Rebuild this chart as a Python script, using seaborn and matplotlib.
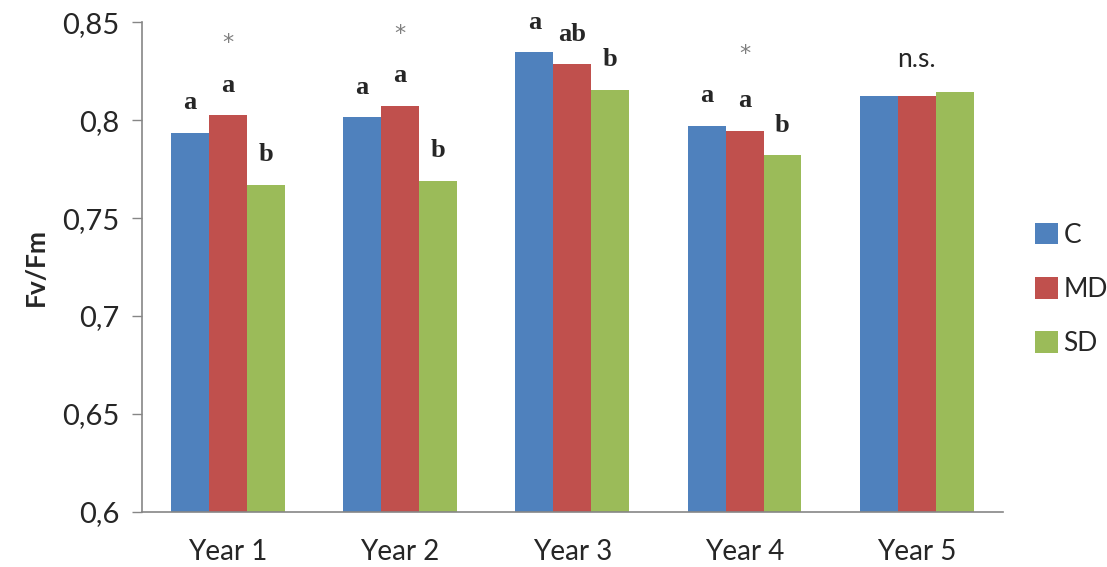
import seaborn as sns
import matplotlib.pyplot as plt
import pandas as pd

# ---- Data

years = ["Year 1", "Year 2", "Year 3", "Year 4", "Year 5"]
treatments = ["C", "MD", "SD"]

fv_fm_c = [0.7934, 0.8014, 0.8345, 0.7971, 0.8122]
fv_fm_md = [0.8024, 0.8073, 0.8284, 0.7944, 0.8122]
fv_fm_sd = [0.7670, 0.7690, 0.8155, 0.7821, 0.8142]

letters_c = ["a", "a", "a", "a", ""]
letters_md = ["a", "a", "ab", "a", ""]
letters_sd = ["b", "b", "b", "b", ""]
group_marks = ["*", "*", "", "*", "n.s."]

y_ticks = [0.6, 0.65, 0.7, 0.75, 0.8, 0.85]
y_tick_labels = ["0,6", "0,65", "0,7", "0,75", "0,8", "0,85"]

palette = {"C": "#4F81BD", "MD": "#C0504D", "SD": "#9BBB59"}

# ---- Long format for seaborn

df = pd.DataFrame({
    "Year": years * 3,
    "Treatment": [t for t in treatments for _ in years],
    "Fv/Fm": fv_fm_c + fv_fm_md + fv_fm_sd,
})

sns.set_style("white")
plt.rcParams["font.family"] = ["Lato", "DejaVu Sans"]

fig, ax = plt.subplots(figsize=(11.07, 5.67), dpi=100)
fig.subplots_adjust(left=0.128, right=0.906, bottom=0.097, top=0.961)

sns.barplot(data=df, x="Year", y="Fv/Fm", hue="Treatment", order=years,
            hue_order=treatments, palette=palette, width=0.66, gap=0,
            saturation=1, errorbar=None, linewidth=0, edgecolor="none", ax=ax)

ax.set_ylim(0.6, 0.85)
ax.set_yticks(y_ticks)
ax.set_yticklabels(y_tick_labels)
ax.set_xlabel("")
ax.set_ylabel("Fv/Fm", fontsize=19, fontweight="bold", labelpad=10)

ax.tick_params(axis="y", which="major", left=True, length=7, width=1,
               color="#868686", labelsize=21, pad=9)
ax.tick_params(axis="x", bottom=False, labelsize=20, pad=16)
for side in ["top", "right"]:
    ax.spines[side].set_visible(False)
for side in ["left", "bottom"]:
    ax.spines[side].set_color("#868686")
    ax.spines[side].set_linewidth(1.2)

# ---- Significance letters over each bar

letter_sets = [letters_c, letters_md, letters_sd]
for container, letters in zip(ax.containers, letter_sets):
    for bar, txt in zip(container, letters):
        if not txt:
            continue
        ax.annotate(txt, (bar.get_x() + bar.get_width() / 2, bar.get_height()),
                    xytext=(0, 17), textcoords="offset points",
                    ha="center", va="baseline", fontsize=19, fontweight="bold",
                    family="Liberation Serif")

# ---- Group marks (asterisk / n.s.)

for i, mark in enumerate(group_marks):
    top = max(fv_fm_c[i], fv_fm_md[i], fv_fm_sd[i])
    if mark == "*":
        ax.annotate(mark, (i, top), xytext=(0, 52), textcoords="offset points",
                    ha="center", va="center", fontsize=16, color="#7f7f7f",
                    family="DejaVu Sans")
    elif mark:
        ax.annotate(mark, (i, top), xytext=(0, 18), textcoords="offset points",
                    ha="center", va="baseline", fontsize=19)

ax.legend(title=None, frameon=False, loc="center left",
          bbox_to_anchor=(0.925, 0.49), bbox_transform=fig.transFigure,
          fontsize=19, handlelength=0.9, handleheight=0.9,
          handletextpad=0.2, labelspacing=1.1, borderaxespad=0)

fig.savefig("out.png", dpi=100)
